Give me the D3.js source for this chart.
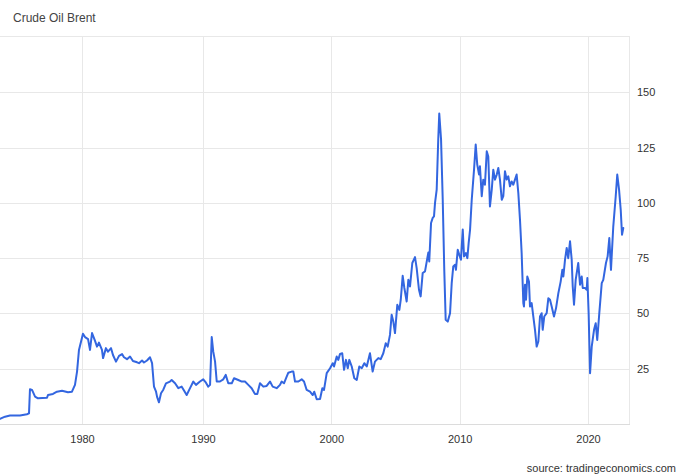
<!DOCTYPE html>
<html><head><meta charset="utf-8">
<script src="https://cdn.jsdelivr.net/npm/d3@7"></script>
<style>html,body{margin:0;padding:0;background:#fff;} svg{display:block;font-family:Arial,"Liberation Sans",sans-serif;}</style>
</head><body><svg id="chart" width="686" height="476"></svg>
<script>
const title = "Crude Oil Brent";
const source = "source: tradingeconomics.com";
const years = [
1973.22,1973.64,1974.05,1974.88,1975.45,1975.62,1975.70,1975.87,1976.12,1976.36,
1977.11,1977.19,1977.60,1977.93,1978.35,1978.84,1979.17,1979.42,1979.59,1979.75,
1980.08,1980.25,1980.50,1980.66,1980.83,1981.07,1981.24,1981.40,1981.65,1981.74,
1981.98,1982.15,1982.40,1982.56,1982.81,1983.06,1983.31,1983.47,1983.72,1983.97,
1984.21,1984.55,1984.71,1984.96,1985.12,1985.37,1985.62,1985.79,1985.95,1986.12,
1986.20,1986.36,1986.53,1986.72,1986.94,1987.27,1987.41,1987.69,1987.96,1988.24,
1988.43,1988.65,1988.93,1989.20,1989.42,1989.75,1990.02,1990.23,1990.41,1990.55,
1990.68,1990.80,1990.94,1991.07,1991.32,1991.58,1991.77,1991.97,1992.24,1992.42,
1992.75,1993.02,1993.27,1993.53,1993.79,1994.05,1994.23,1994.44,1994.70,1994.96,
1995.22,1995.43,1995.74,1996.00,1996.13,1996.31,1996.52,1996.65,1996.91,1997.04,
1997.17,1997.43,1997.69,1997.87,1998.08,1998.34,1998.55,1998.67,1998.86,1999.12,
1999.30,1999.43,1999.64,1999.90,2000.11,2000.21,2000.42,2000.54,2000.68,2000.85,
2000.99,2001.14,2001.28,2001.40,2001.59,2001.79,2001.98,2002.18,2002.37,2002.57,
2002.76,2003.01,2003.22,2003.40,2003.66,2003.85,2004.05,2004.24,2004.39,2004.57,
2004.70,2004.83,2004.96,2005.14,2005.30,2005.41,2005.56,2005.69,2005.87,2006.00,
2006.13,2006.31,2006.52,2006.65,2006.83,2006.96,2007.12,2007.30,2007.48,2007.56,
2007.63,2007.77,2007.90,2008.00,2008.08,2008.21,2008.33,2008.41,2008.55,2008.68,
2008.80,2008.91,2009.07,2009.25,2009.38,2009.50,2009.64,2009.71,2009.85,2009.97,
2010.10,2010.24,2010.34,2010.49,2010.60,2010.70,2010.81,2010.94,2011.12,2011.25,
2011.37,2011.51,2011.58,2011.72,2011.84,2011.97,2012.11,2012.23,2012.36,2012.50,
2012.62,2012.75,2012.89,2013.01,2013.14,2013.28,2013.40,2013.53,2013.66,2013.79,
2013.92,2014.05,2014.18,2014.31,2014.44,2014.57,2014.70,2014.83,2014.96,2015.01,
2015.09,2015.17,2015.27,2015.40,2015.48,2015.61,2015.74,2015.87,2016.00,2016.13,
2016.26,2016.39,2016.47,2016.59,2016.78,2016.91,2017.04,2017.17,2017.35,2017.51,
2017.69,2017.87,2018.00,2018.08,2018.21,2018.34,2018.46,2018.60,2018.73,2018.81,
2018.91,2019.04,2019.24,2019.38,2019.51,2019.59,2019.77,2019.90,2019.95,2020.05,
2020.16,2020.29,2020.47,2020.60,2020.72,2020.88,2021.07,2021.19,2021.40,2021.53,
2021.66,2021.79,2021.97,2022.16,2022.28,2022.42,2022.55,2022.65,2022.75
];
const prices = [
2.3,3.3,3.8,3.8,4.4,4.8,15.7,15.4,12.4,11.6,
11.9,13.1,13.6,14.6,15.0,14.4,14.6,17.7,23.7,33.5,
40.8,39.3,38.4,33.5,41.1,37.7,35.0,36.8,33.5,29.8,
34.3,32.7,34.3,31.2,28.2,30.8,31.6,30.2,29.3,30.5,
28.5,27.9,27.5,28.7,27.8,28.7,30.2,27.5,16.9,14.6,
12.4,9.8,13.9,15.5,18.4,19.2,19.9,18.4,16.2,16.9,
15.1,13.1,16.2,19.2,17.7,19.2,20.2,18.7,16.9,17.7,
39.3,32.7,28.2,19.2,19.2,20.2,22.2,18.4,18.4,20.7,
19.9,19.2,19.2,17.7,16.2,13.6,13.6,18.4,16.9,17.2,
19.2,16.9,16.2,17.7,19.2,18.4,21.4,23.2,23.7,23.7,
19.2,19.2,20.2,19.2,15.4,14.6,13.1,14.6,11.2,11.3,
16.2,15.4,23.0,25.2,27.5,26.0,30.5,29.0,31.7,32.0,
24.5,29.0,25.2,29.0,26.0,20.7,19.9,26.0,25.2,27.5,
26.0,32.0,23.7,28.2,29.8,29.3,32.0,36.5,35.0,40.3,
49.4,46.3,41.1,53.9,51.6,56.2,67.0,61.5,55.4,65.2,
62.2,72.8,75.5,70.5,60.7,57.7,68.3,69.0,75.0,77.6,
73.5,90.9,93.2,93.9,100.0,106.0,128.6,140.4,128.6,101.4,
69.7,47.1,46.3,50.1,63.7,71.2,72.0,69.7,78.8,76.5,
74.3,87.9,75.8,77.3,75.0,81.8,87.9,101.4,115.0,126.4,
117.3,112.8,116.5,103.0,110.5,108.2,123.3,121.0,98.4,106.0,
115.0,110.5,112.8,115.8,110.5,101.4,103.0,114.3,110.5,112.0,
107.5,109.7,108.2,110.5,112.8,104.5,92.4,77.3,54.7,53.1,
63.0,56.2,66.7,64.4,53.1,54.7,48.6,42.6,35.0,37.3,
48.6,50.1,42.6,48.6,50.1,56.9,56.2,53.1,48.6,52.4,
59.2,64.4,69.7,66.7,74.3,79.6,75.0,82.6,74.3,62.2,
53.9,65.2,72.8,63.0,66.7,61.5,61.5,60.7,66.0,50.1,
23.0,35.0,42.6,45.6,38.0,50.1,63.7,65.2,72.8,75.8,
84.1,69.7,89.4,103.0,112.8,106.0,96.9,85.6,88.6
];
const xTicks = [1980, 1990, 2000, 2010, 2020];
const yTicks = [25, 50, 75, 100, 125, 150];

const svg = d3.select("#chart");
const plot = {left: 0, right: 629, top: 36, bottom: 424};
const x = d3.scaleLinear().domain([1980, 1990, 2020]).range([82, 203, 588]);
const y = d3.scaleLinear().domain([0, 175]).range([plot.bottom, 37]);

const grid = svg.append("g").attr("stroke", "#e8e8e8").attr("stroke-width", 1).attr("shape-rendering", "crispEdges");
grid.selectAll("line.h").data(yTicks).join("line").attr("class", "h")
  .attr("x1", plot.left).attr("x2", plot.right)
  .attr("y1", d => Math.round(y(d)) + 0.5).attr("y2", d => Math.round(y(d)) + 0.5);
grid.selectAll("line.v").data(xTicks).join("line").attr("class", "v")
  .attr("x1", d => Math.round(x(d)) + 0.5).attr("x2", d => Math.round(x(d)) + 0.5)
  .attr("y1", plot.top).attr("y2", plot.bottom);
grid.append("line").attr("x1", plot.left).attr("x2", plot.right + 1).attr("y1", plot.top + 0.5).attr("y2", plot.top + 0.5);
grid.append("line").attr("x1", plot.right + 0.5).attr("x2", plot.right + 0.5).attr("y1", plot.top).attr("y2", plot.bottom);
grid.append("line").attr("stroke", "#dcdcdc").attr("x1", plot.left).attr("x2", plot.right + 1).attr("y1", plot.bottom + 0.5).attr("y2", plot.bottom + 0.5);

const yAxis = svg.append("g").attr("transform", `translate(${plot.right},0)`)
  .call(d3.axisRight(y).tickValues(yTicks).tickSize(0).tickPadding(8));
yAxis.select(".domain").remove();
yAxis.selectAll("text").attr("font-size", 11).attr("fill", "#333").attr("font-family", "Arial, 'Liberation Sans', sans-serif");

const xAxis = svg.append("g").attr("transform", `translate(0,${plot.bottom})`)
  .call(d3.axisBottom(x).tickValues(xTicks).tickFormat(d3.format("d")).tickSize(0).tickPadding(11));
xAxis.select(".domain").remove();
xAxis.selectAll("text").attr("font-size", 11).attr("fill", "#333").attr("font-family", "Arial, 'Liberation Sans', sans-serif");

const data = years.map((yr, i) => ({year: yr, value: prices[i]}));
svg.append("path").datum(data)
  .attr("fill", "none").attr("stroke", "#3366e0").attr("stroke-width", 2)
  .attr("stroke-linejoin", "round").attr("stroke-linecap", "round")
  .attr("d", d3.line().x(d => x(d.year)).y(d => y(d.value)));

svg.append("text").attr("x", 13).attr("y", 22).attr("font-size", 12).attr("fill", "#444").text(title);
svg.append("text").attr("x", 676).attr("y", 472).attr("text-anchor", "end").attr("font-size", 11).attr("fill", "#333").text(source);
</script></body></html>
